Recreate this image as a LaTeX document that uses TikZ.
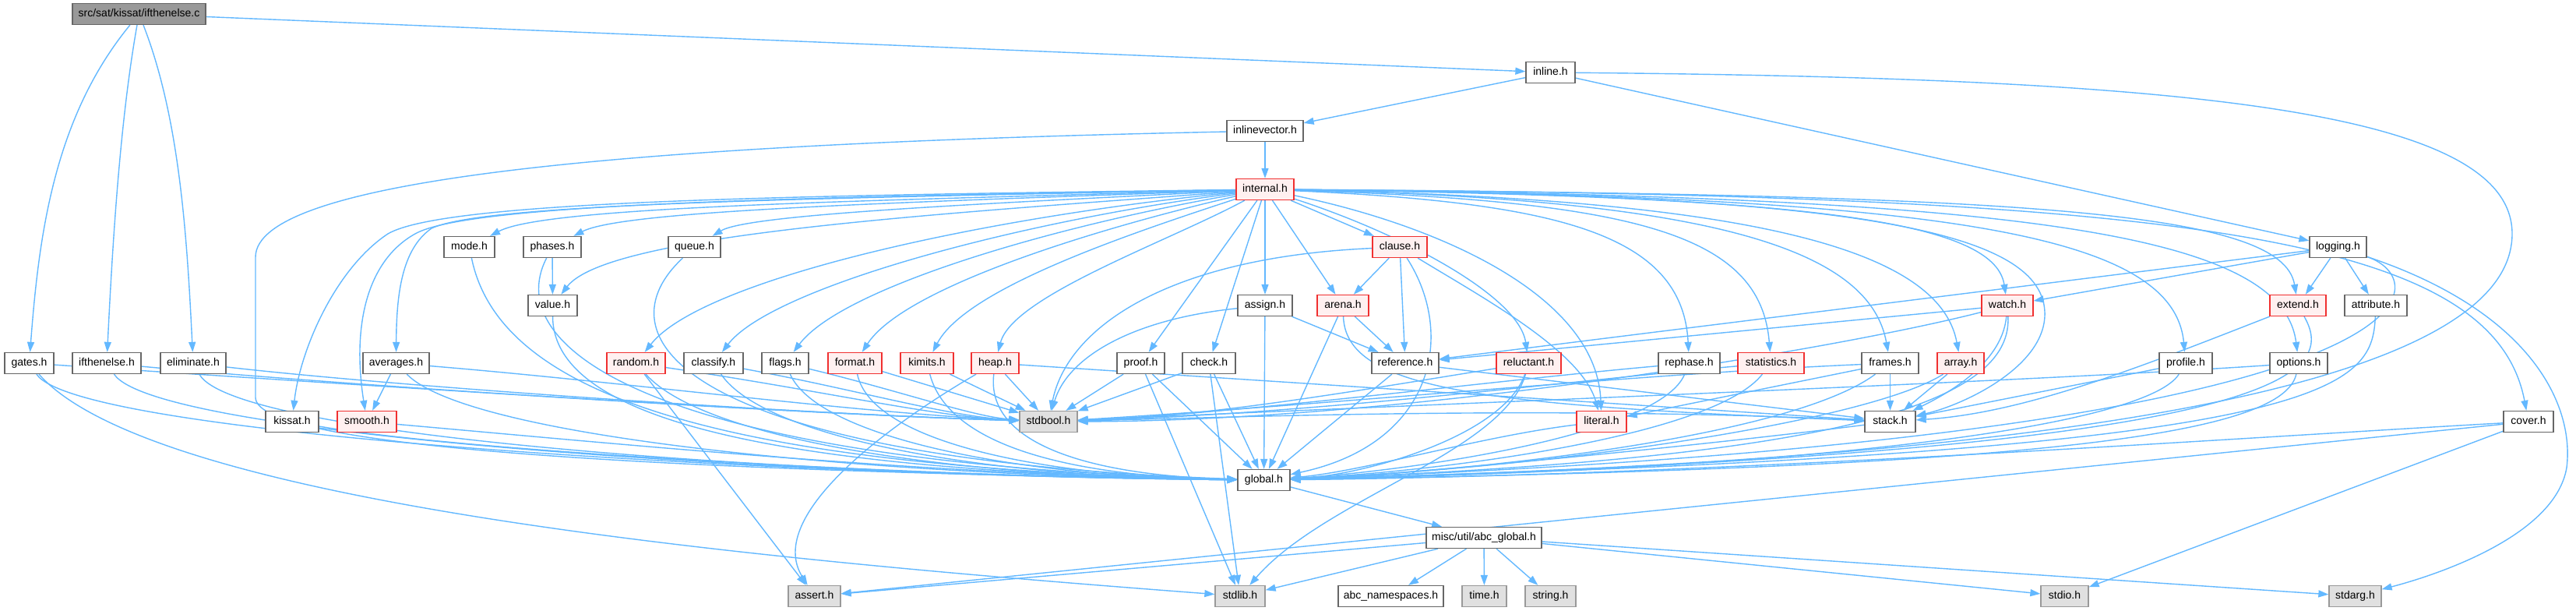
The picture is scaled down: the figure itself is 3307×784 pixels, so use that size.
\documentclass[tikz,border=0pt]{standalone}
\usepackage{fontspec}
\setmainfont{Liberation Sans}
\usetikzlibrary{arrows.meta}
\definecolor{edgec}{HTML}{63B8FF}
\definecolor{nodeb}{HTML}{666666}
\definecolor{redb}{HTML}{F03030}
\definecolor{redf}{HTML}{FFF0F0}
\definecolor{sysf}{HTML}{E0E0E0}
\definecolor{sysb}{HTML}{999999}
\definecolor{mainf}{HTML}{999999}
\pgfdeclarelayer{bg}
\pgfsetlayers{bg,main}
\begin{document}
\begin{tikzpicture}[x=1pt,y=1pt,
  base/.style={line width=1.3pt, minimum height=27pt, inner sep=0pt,
    font=\fontsize{14}{16}\selectfont, text height=10pt, text depth=3pt},
  box/.style={base, draw=nodeb, fill=white},
  redn/.style={base, draw=redb, fill=redf},
  sysn/.style={base, draw=sysb, fill=sysf},
  mainn/.style={base, draw=nodeb, fill=mainf},
  e/.style={draw=edgec, line width=1.4pt, -{Triangle[length=13pt,width=9pt]}}]
\useasboundingbox (0,0) rectangle (3307,-784);
% row 0-3
\node[mainn, minimum width=171pt] (c) at (178.5,-18) {src/sat/kissat/ifthenelse.c};
\node[box, minimum width=63pt] (inline) at (1990.5,-93) {inline.h};
\node[box, minimum width=98pt] (ilv) at (1624,-168) {inlinevector.h};
\node[redn, minimum width=74pt] (internal) at (1624,-243) {internal.h};
% row 4
\node[box, minimum width=65pt] (mode) at (602.5,-317) {mode.h};
\node[box, minimum width=74pt] (phases) at (709,-317) {phases.h};
\node[box, minimum width=67pt] (queue) at (891.5,-317) {queue.h};
\node[redn, minimum width=70pt] (clause) at (1797,-317) {clause.h};
\node[box, minimum width=73pt] (logging) at (3001.5,-317) {logging.h};
% row 5
\node[box, minimum width=63pt] (value) at (709.5,-392) {value.h};
\node[box, minimum width=70pt] (assign) at (1624,-392) {assign.h};
\node[redn, minimum width=66pt] (arena) at (1724,-392) {arena.h};
\node[redn, minimum width=66pt] (watch) at (2577,-392) {watch.h};
\node[redn, minimum width=72pt] (extend) at (2950,-392) {extend.h};
\node[box, minimum width=80pt] (attribute) at (3050,-392) {attribute.h};
% row 6
\node[box, minimum width=63pt] (gates) at (37.5,-466) {gates.h};
\node[box, minimum width=88pt] (ifth) at (137,-466) {ifthenelse.h};
\node[box, minimum width=84pt] (elim) at (248,-466) {eliminate.h};
\node[box, minimum width=85pt] (averages) at (508.5,-466) {averages.h};
\node[redn, minimum width=75pt] (random) at (816.5,-466) {random.h};
\node[box, minimum width=76pt] (classify) at (916,-466) {classify.h};
\node[box, minimum width=60pt] (flags) at (1008,-466) {flags.h};
\node[redn, minimum width=69pt] (format) at (1097.5,-466) {format.h};
\node[redn, minimum width=68pt] (kimits) at (1190,-466) {kimits.h};
\node[redn, minimum width=61pt] (heap) at (1277.5,-466) {heap.h};
\node[box, minimum width=61pt] (proof) at (1464.5,-466) {proof.h};
\node[box, minimum width=68pt] (check) at (1552,-466) {check.h};
\node[box, minimum width=86pt] (reference) at (1804,-466) {reference.h};
\node[redn, minimum width=83pt] (reluctant) at (1962.5,-466) {reluctant.h};
\node[box, minimum width=79pt] (rephase) at (2168.5,-466) {rephase.h};
\node[redn, minimum width=85pt] (statistics) at (2273.5,-466) {statistics.h};
\node[box, minimum width=73pt] (frames) at (2426.5,-466) {frames.h};
\node[redn, minimum width=60pt] (array) at (2517,-466) {array.h};
\node[box, minimum width=68pt] (profile) at (2806,-466) {profile.h};
\node[box, minimum width=74pt] (options) at (2951,-466) {options.h};
% row 7
\node[box, minimum width=68pt] (kissat) at (375,-541) {kissat.h};
\node[redn, minimum width=76pt] (smooth) at (471,-541) {smooth.h};
\node[sysn, minimum width=74pt] (stdbool) at (1346,-541) {stdbool.h};
\node[redn, minimum width=64pt] (literal) at (2056,-541) {literal.h};
\node[box, minimum width=65pt] (stack) at (2426.5,-541) {stack.h};
\node[box, minimum width=64pt] (cover) at (3246,-541) {cover.h};
% row 8-10
\node[box, minimum width=67pt] (global) at (1622.5,-616) {global.h};
\node[box, minimum width=148pt] (abcg) at (1905,-690) {misc/util/abc\_global.h};
\node[sysn, minimum width=67pt] (assert) at (1045.5,-765) {assert.h};
\node[sysn, minimum width=64pt] (stdlib) at (1592,-765) {stdlib.h};
\node[box, minimum width=135pt] (abcns) at (1785.5,-765) {abc\_namespaces.h};
\node[sysn, minimum width=57pt] (time) at (1905.5,-765) {time.h};
\node[sysn, minimum width=65pt] (string) at (1990.5,-765) {string.h};
\node[sysn, minimum width=61pt] (stdio) at (2650.5,-765) {stdio.h};
\node[sysn, minimum width=67pt] (stdarg) at (3023.5,-765) {stdarg.h};

\begin{pgfonlayer}{bg}
% top
\draw[e] (c) .. controls (70,-150) and (50,-300) .. (gates);
\draw[e] (c) .. controls (155,-150) and (145,-300) .. (ifth);
\draw[e] (c) .. controls (230,-150) and (240,-300) .. (elim);
\draw[e] (c) -- (inline);
\draw[e] (inline) -- (ilv);
\draw[e] (inline) -- (logging);
\draw[e] (inline) .. controls (2800,-100) and (3225,-140) .. (3225,-300) .. controls (3225,-560) and (2200,-600) .. (global);
\draw[e] (ilv) -- (internal);
\draw[e] (ilv) .. controls (800,-185) and (328,-230) .. (328,-330) -- (328,-510) .. controls (328,-578) and (900,-605) .. (global);
% internal
\draw[e] (internal) .. controls (1100,-258) and (700,-265) .. (mode);
\draw[e] (internal) .. controls (1150,-260) and (800,-270) .. (phases);
\draw[e] (internal) .. controls (1250,-262) and (960,-275) .. (queue);
\draw[e] (internal) .. controls (1200,-275) and (780,-300) .. (value);
\draw[e] (internal) .. controls (1000,-255) and (620,-262) .. (554,-293) .. controls (515,-320) and (509,-380) .. (averages);
\draw[e] (internal) .. controls (1000,-253) and (600,-262) .. (533,-300) .. controls (470,-335) and (452,-420) .. (smooth);
\draw[e] (internal) .. controls (1000,-251) and (570,-258) .. (498,-300) .. controls (430,-345) and (385,-450) .. (kissat);
\draw[e] (internal) .. controls (1250,-280) and (900,-360) .. (random);
\draw[e] (internal) .. controls (1300,-285) and (990,-370) .. (classify);
\draw[e] (internal) .. controls (1350,-290) and (1080,-370) .. (flags);
\draw[e] (internal) .. controls (1400,-295) and (1160,-370) .. (format);
\draw[e] (internal) .. controls (1450,-300) and (1240,-370) .. (kimits);
\draw[e] (internal) .. controls (1500,-310) and (1300,-380) .. (heap);
\draw[e] (internal) -- (proof);
\draw[e] (internal) -- (check);
\draw[e] (internal) -- (assign);
\draw[e] (internal) -- (arena);
\draw[e] (internal) -- (clause);
\draw[e] (internal) .. controls (1800,-300) and (1950,-380) .. (reluctant);
\draw[e] (internal) .. controls (1850,-290) and (2050,-380) .. (literal);
\draw[e] (internal) .. controls (2000,-260) and (2160,-300) .. (rephase);
\draw[e] (internal) .. controls (2100,-258) and (2260,-300) .. (statistics);
\draw[e] (internal) .. controls (2200,-255) and (2400,-320) .. (frames);
\draw[e] (internal) .. controls (2250,-255) and (2490,-320) .. (array);
\draw[e] (internal) .. controls (2300,-252) and (2560,-280) .. (watch);
\draw[e] (internal) .. controls (2350,-250) and (2620,-290) .. (2625,-400) .. controls (2628,-470) and (2520,-520) .. (stack);
\draw[e] (internal) .. controls (2500,-252) and (2790,-300) .. (profile);
\draw[e] (internal) .. controls (2600,-252) and (2930,-300) .. (options);
\draw[e] (internal) .. controls (2600,-250) and (2930,-270) .. (extend);
\draw[e] (internal) .. controls (2800,-250) and (3200,-300) .. (cover);
% clause, assign, arena, reference
\draw[e] (clause) -- (arena);
\draw[e] (clause) -- (reference);
\draw[e] (clause) .. controls (1900,-380) and (2030,-450) .. (literal);
\draw[e] (clause) .. controls (1870,-430) and (1840,-570) .. (global);
\draw[e] (clause) .. controls (1500,-330) and (1370,-420) .. (stdbool);
\draw[e] (assign) -- (reference);
\draw[e] (assign) -- (global);
\draw[e] (assign) .. controls (1450,-410) and (1370,-460) .. (stdbool);
\draw[e] (arena) -- (reference);
\draw[e] (arena) -- (global);
\draw[e] (arena) .. controls (1728,-500) and (1900,-520) .. (stack);
\draw[e] (reference) -- (global);
\draw[e] (reference) -- (stack);
% logging, watch, extend, attribute
\draw[e] (logging) -- (extend);
\draw[e] (logging) -- (attribute);
\draw[e] (logging) -- (watch);
\draw[e] (logging) -- (reference);
\draw[e] (logging) .. controls (3130,-360) and (3160,-560) .. (global);
\draw[e] (logging) .. controls (3250,-400) and (3305,-520) .. (3295,-600) .. controls (3280,-690) and (3120,-740) .. (stdarg);
\draw[e] (watch) -- (reference);
\draw[e] (watch) .. controls (2570,-470) and (2490,-510) .. (stack);
\draw[e] (watch) .. controls (2585,-530) and (2300,-590) .. (global);
\draw[e] (watch) .. controls (2350,-450) and (1800,-540) .. (stdbool);
\draw[e] (extend) .. controls (2750,-470) and (2600,-530) .. (stack);
\draw[e] (extend) .. controls (3000,-480) and (2950,-580) .. (global);
\draw[e] (attribute) .. controls (3045,-500) and (3000,-580) .. (global);
% row 6 right
\draw[e] (profile) -- (stack);
\draw[e] (profile) .. controls (2760,-540) and (2400,-600) .. (global);
\draw[e] (options) .. controls (2600,-490) and (1800,-520) .. (stdbool);
\draw[e] (options) .. controls (2930,-560) and (2600,-600) .. (global);
\draw[e] (cover) .. controls (2900,-560) and (2200,-610) .. (global);
\draw[e] (cover) -- (assert);
\draw[e] (cover) -- (stdio);
\draw[e] (array) -- (stack);
\draw[e] (array) .. controls (2400,-540) and (2000,-600) .. (global);
\draw[e] (frames) -- (stack);
\draw[e] (frames) -- (literal);
\draw[e] (frames) .. controls (2100,-480) and (1700,-520) .. (stdbool);
\draw[e] (frames) .. controls (2300,-560) and (1900,-605) .. (global);
\draw[e] (statistics) .. controls (2000,-490) and (1700,-530) .. (stdbool);
\draw[e] (statistics) .. controls (2200,-560) and (1850,-605) .. (global);
\draw[e] (rephase) .. controls (1900,-490) and (1600,-530) .. (stdbool);
\draw[e] (rephase) .. controls (2130,-560) and (1800,-605) .. (global);
\draw[e] (reluctant) .. controls (1750,-500) and (1550,-535) .. (stdbool);
\draw[e] (reluctant) .. controls (1930,-560) and (1750,-610) .. (global);
\draw[e] (reluctant) .. controls (1930,-580) and (1700,-640) .. (stdlib);
\draw[e] (literal) .. controls (1900,-560) and (1750,-605) .. (global);
\draw[e] (stack) .. controls (2200,-570) and (1800,-610) .. (global);
\draw[e] (stack) .. controls (2000,-520) and (1600,-535) .. (stdbool);
% row 6 middle
\draw[e] (heap) -- (stdbool);
\draw[e] (heap) .. controls (1265,-570) and (1400,-610) .. (global);
\draw[e] (heap) -- (stack);
\draw[e] (heap) .. controls (1150,-540) and (980,-660) .. (assert);
\draw[e] (kimits) -- (stdbool);
\draw[e] (kimits) .. controls (1220,-580) and (1400,-612) .. (global);
\draw[e] (format) -- (stdbool);
\draw[e] (format) .. controls (1120,-570) and (1350,-612) .. (global);
\draw[e] (flags) .. controls (1150,-500) and (1250,-535) .. (stdbool);
\draw[e] (flags) .. controls (1050,-560) and (1300,-612) .. (global);
\draw[e] (classify) .. controls (1100,-500) and (1220,-535) .. (stdbool);
\draw[e] (classify) .. controls (980,-560) and (1250,-612) .. (global);
\draw[e] (random) .. controls (1050,-500) and (1200,-535) .. (stdbool);
\draw[e] (random) .. controls (900,-560) and (1200,-612) .. (global);
\draw[e] (random) -- (assert);
\draw[e] (proof) -- (stdbool);
\draw[e] (proof) -- (global);
\draw[e] (proof) -- (stdlib);
\draw[e] (check) -- (stdbool);
\draw[e] (check) -- (global);
\draw[e] (check) -- (stdlib);
% left
\draw[e] (averages) -- (smooth);
\draw[e] (averages) .. controls (600,-560) and (1100,-610) .. (global);
\draw[e] (averages) .. controls (800,-490) and (1100,-530) .. (stdbool);
\draw[e] (smooth) .. controls (800,-570) and (1200,-610) .. (global);
\draw[e] (kissat) .. controls (600,-580) and (1200,-612) .. (global);
\draw[e] (gates) .. controls (100,-560) and (1000,-610) .. (global);
\draw[e] (gates) .. controls (400,-490) and (1000,-530) .. (stdbool);
\draw[e] (gates) .. controls (200,-650) and (1000,-720) .. (stdlib);
\draw[e] (ifth) .. controls (200,-560) and (1000,-610) .. (global);
\draw[e] (ifth) .. controls (450,-495) and (1000,-530) .. (stdbool);
\draw[e] (elim) .. controls (300,-560) and (1000,-610) .. (global);
\draw[e] (elim) .. controls (500,-495) and (1000,-530) .. (stdbool);
\draw[e] (mode) .. controls (640,-500) and (900,-600) .. (global);
\draw[e] (phases) -- (value);
\draw[e] (phases) .. controls (640,-450) and (850,-595) .. (global);
\draw[e] (value) .. controls (710,-540) and (1000,-605) .. (global);
\draw[e] (queue) .. controls (760,-440) and (900,-590) .. (global);
% bottom
\draw[e] (global) -- (abcg);
\draw[e] (abcg) -- (assert);
\draw[e] (abcg) -- (stdlib);
\draw[e] (abcg) -- (abcns);
\draw[e] (abcg) -- (time);
\draw[e] (abcg) -- (string);
\draw[e] (abcg) -- (stdio);
\draw[e] (abcg) -- (stdarg);
\end{pgfonlayer}
\end{tikzpicture}
\end{document}
